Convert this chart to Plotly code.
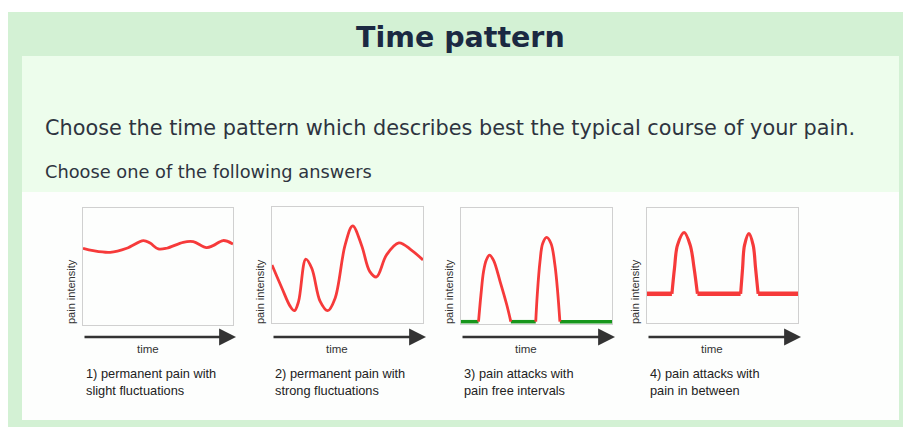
import plotly.graph_objects as go

W, H = 903, 427

# ---------------- data ----------------
title_text = "Time pattern"
question_text = "Choose the time pattern which describes best the typical course of your pain."
instruction_text = "Choose one of the following answers"
y_label = "pain intensity"
x_label = "time"
captions = [
    "1) permanent pain with<br>slight fluctuations",
    "2) permanent pain with<br>strong fluctuations",
    "3) pain attacks with<br>pain free intervals",
    "4) pain attacks with<br>pain in between",
]

# panel 1: permanent pain, slight fluctuations
p1_time = [0, 6.8, 18.1, 29.2, 40.3, 44.7, 50.2, 55.8, 66.8, 73.5, 82.3, 86.7, 93.4, 100]
p1_int = [65.6, 63.5, 62.1, 65.6, 72.2, 70.0, 65.0, 65.6, 70.7, 71.2, 66.1, 67.8, 72.2, 69.2]

# panel 2: permanent pain, strong fluctuations
p2_time = [0, 6.6, 12.1, 14.9, 17.6, 22.4, 26.4, 31.9, 36.9, 41.8, 48.4, 53.4, 59.3,
           64.8, 69.2, 75.8, 84.0, 92.3, 100]
p2_int = [50.0, 30.0, 14.3, 10.6, 18.6, 55.1, 47.0, 18.6, 10.6, 21.4, 67.1, 83.7, 67.1,
          44.3, 39.7, 58.6, 69.1, 62.9, 54.3]

# panel 3: pain attacks with pain-free intervals
p3_free_time = [0, 11.6, None, 33.0, 49.5, None, 65.5, 100]
p3_free_int = [2, 2, None, 2, 2, None, 2, 2]
p3_a1_time = [11.6, 13.2, 14.9, 16.7, 18.9, 21.5, 25.9, 30.3, 33.0]
p3_a1_int = [2, 25, 45, 55, 59.4, 55, 36.6, 16.6, 2]
p3_a2_time = [49.5, 50.5, 52.3, 54.1, 56.7, 59.6, 62.2, 64.0, 65.5]
p3_a2_int = [2, 25, 53.7, 69.4, 74.6, 69.4, 50.9, 28, 2]

# panel 4: pain attacks with pain in between
p4_base_time = [0, 16.5, None, 33.4, 62.0, None, 73.6, 100]
p4_base_int = [25.4, 25.4, None, 25.4, 25.4, None, 25.4, 25.4]
p4_a1_time = [16.5, 18.2, 20.2, 24.6, 28.6, 31.2, 33.4]
p4_a1_int = [25.4, 47.6, 67.7, 78.7, 67.7, 47.6, 25.4]
p4_a2_time = [62.0, 63.3, 64.6, 67.5, 70.3, 71.9, 73.6]
p4_a2_int = [25.4, 47.6, 67.7, 77.8, 67.7, 47.6, 25.4]

# ---------------- styling / layout helpers ----------------
RED = "#f63a3a"
GREEN = "#17961c"
ARROW = "#333333"

def px(x):
    return x / W

def py(y):
    return 1 - y / H

# plot boxes in pixels: (left, right, top, bottom)
boxes = [
    (83, 233, 208, 325),
    (272, 423, 207, 323),
    (461, 612, 208, 324),
    (647, 798, 208, 323),
]

fig = go.Figure()

def add_line(i, t, v, width, color, shape="linear"):
    ax = "" if i == 0 else str(i + 1)
    fig.add_trace(go.Scatter(
        x=t, y=v, mode="lines", xaxis="x" + ax, yaxis="y" + ax,
        line=dict(color=color, width=width, shape=shape, smoothing=1.0),
        hoverinfo="skip", showlegend=False, connectgaps=False,
    ))

add_line(0, p1_time, p1_int, 2.8, RED, "spline")
add_line(1, p2_time, p2_int, 2.8, RED, "spline")
add_line(2, p3_free_time, p3_free_int, 3.5, GREEN)
add_line(2, p3_a1_time, p3_a1_int, 2.8, RED, "spline")
add_line(2, p3_a2_time, p3_a2_int, 2.8, RED, "spline")
add_line(3, p4_base_time, p4_base_int, 4.5, RED)
add_line(3, p4_a1_time, p4_a1_int, 3.2, RED, "spline")
add_line(3, p4_a2_time, p4_a2_int, 3.2, RED, "spline")

layout_axes = {}
for i, (l, r, t, b) in enumerate(boxes):
    sfx = "" if i == 0 else str(i + 1)
    common = dict(range=[0, 100], showticklabels=False, ticks="", showgrid=False,
                  zeroline=False, showline=True, mirror=True, linecolor="#d0d0d0",
                  linewidth=1, fixedrange=True)
    layout_axes["xaxis" + sfx] = dict(domain=[px(l), px(r)],
                                      anchor="y" + sfx, **common)
    layout_axes["yaxis" + sfx] = dict(domain=[py(b), py(t)],
                                      anchor="x" + sfx, **common)

shapes = [
    dict(type="rect", xref="paper", yref="paper", x0=px(8), x1=px(903), y0=py(427), y1=py(12),
         fillcolor="#d3f1d4", line_width=0, layer="below"),
    dict(type="rect", xref="paper", yref="paper", x0=px(22), x1=px(899), y0=py(192), y1=py(56),
         fillcolor="#edfdec", line_width=0, layer="below"),
    dict(type="rect", xref="paper", yref="paper", x0=px(22), x1=px(899), y0=py(420), y1=py(192),
         fillcolor="#fdfefd", line_width=0, layer="below"),
]

annotations = [
    dict(text="<b>" + title_text + "</b>", x=px(460), y=py(38), xref="paper", yref="paper",
         showarrow=False, xanchor="center", yanchor="middle",
         font=dict(family="DejaVu Sans", size=28.5, color="#1b2942")),
    dict(text=question_text, x=px(43), y=py(128), xref="paper", yref="paper",
         showarrow=False, xanchor="left", yanchor="middle",
         font=dict(family="DejaVu Sans", size=20.8, color="#2e3440")),
    dict(text=instruction_text, x=px(43), y=py(171), xref="paper", yref="paper",
         showarrow=False, xanchor="left", yanchor="middle",
         font=dict(family="DejaVu Sans", size=17.8, color="#2e3440")),
]

for i, (l, r, t, b) in enumerate(boxes):
    w = r - l
    # time arrow
    annotations.append(dict(
        x=px(r + 3), y=py(337), xref="paper", yref="paper",
        ax=-(w + 3), ay=0, axref="pixel", ayref="pixel",
        showarrow=True, arrowhead=2, arrowsize=1.35, arrowwidth=2.5, arrowcolor=ARROW,
        text="", standoff=0,
    ))
    annotations.append(dict(
        text=x_label, x=px(l + 0.43 * w), y=py(349), xref="paper", yref="paper",
        showarrow=False, xanchor="center", yanchor="middle",
        font=dict(family="Liberation Sans", size=11.5, color="#333333"),
    ))
    annotations.append(dict(
        text=y_label, x=px(l - 12), y=py(292), xref="paper", yref="paper",
        showarrow=False, xanchor="center", yanchor="middle", textangle=-90,
        font=dict(family="Liberation Sans", size=11, color="#333333"),
    ))
    annotations.append(dict(
        text=captions[i], x=px(l + 1), y=py(364), xref="paper", yref="paper",
        showarrow=False, xanchor="left", yanchor="top", align="left",
        font=dict(family="Liberation Sans", size=12.8, color="#222222"),
    ))

fig.update_layout(
    width=W, height=H,
    margin=dict(l=0, r=0, t=0, b=0),
    paper_bgcolor="white", plot_bgcolor="#fdfefd",
    shapes=shapes, annotations=annotations,
    showlegend=False,
    **layout_axes,
)

fig.write_html("out.html", config={"displayModeBar": False},
               post_script="document.body.style.margin='0';document.body.style.overflow='hidden';")
